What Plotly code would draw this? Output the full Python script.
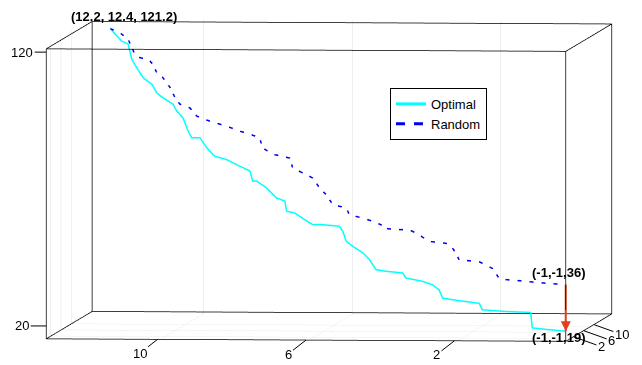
import plotly.graph_objects as go

# ---- data ----
opt_x = [12.2, 11.86, 11.68, 11.57, 11.43, 11.24, 10.99, 10.85, 10.67, 10.38, 10.27, 10.09, 9.94, 9.84, 9.60, 9.40, 9.17, 8.83, 8.44, 8.15, 8.07, 7.96, 7.67, 7.38, 7.14, 7.09, 6.86, 6.57, 6.33, 6.13, 5.56, 5.46, 5.36, 5.17, 4.88, 4.69, 4.50, 4.21, 3.73, 3.63, 3.15, 2.86, 2.67, 2.57, 2.09, 1.51, 1.42, 0.74, 0.02, -0.03, -0.41, -1]
opt_y = [12.4, 12.05, 11.87, 11.76, 11.61, 11.43, 11.18, 11.03, 10.84, 10.55, 10.44, 10.26, 10.11, 10.00, 9.76, 9.56, 9.32, 8.98, 8.59, 8.29, 8.20, 8.10, 7.80, 7.51, 7.27, 7.22, 6.97, 6.68, 6.45, 6.24, 5.65, 5.56, 5.46, 5.26, 4.97, 4.78, 4.58, 4.28, 3.80, 3.70, 3.21, 2.92, 2.72, 2.63, 2.14, 1.55, 1.45, 0.77, 0.03, -0.01, -0.40, -1]
opt_z = [121.2, 116.8, 115.9, 110.3, 107.4, 103.8, 101.6, 98.6, 96.9, 94.8, 92.3, 89.9, 85.2, 82.8, 83.0, 79.4, 76.5, 75.5, 73.3, 71.7, 68.1, 68.2, 65.9, 62.4, 61.4, 57.7, 57.3, 55.0, 53.3, 53.5, 53.2, 51.4, 47.8, 46.1, 43.9, 41.6, 38.0, 37.6, 37.3, 35.5, 34.6, 33.5, 31.8, 28.8, 28.2, 27.6, 25.3, 25.1, 25.2, 19.6, 19.3, 19]

rnd_x = [12.2, 11.91, 11.68, 11.57, 11.48, 11.33, 11.10, 10.96, 10.85, 10.67, 10.46, 10.32, 10.18, 9.89, 9.69, 9.31, 8.83, 8.44, 8.15, 7.87, 7.78, 7.49, 7.00, 6.91, 6.62, 6.33, 6.13, 5.94, 5.75, 5.56, 5.36, 5.27, 4.88, 4.59, 4.35, 4.31, 3.92, 3.53, 3.25, 2.96, 2.47, 2.28, 2.18, 2.09, 1.51, 1.13, 0.93, 0.89, 0.36, -0.12, -0.60, -1]
rnd_y = [12.4, 12.10, 11.87, 11.76, 11.66, 11.52, 11.28, 11.14, 11.03, 10.84, 10.64, 10.49, 10.34, 10.05, 9.86, 9.47, 8.98, 8.59, 8.29, 8.00, 7.91, 7.62, 7.12, 7.03, 6.74, 6.44, 6.24, 6.04, 5.85, 5.65, 5.46, 5.36, 4.97, 4.68, 4.43, 4.39, 3.99, 3.60, 3.31, 3.02, 2.53, 2.33, 2.23, 2.14, 1.55, 1.16, 0.96, 0.91, 0.38, -0.11, -0.60, -1]
rnd_z = [121.2, 119.8, 117.7, 114.6, 112.2, 111.1, 110.7, 109.0, 105.9, 104.2, 100.7, 97.1, 94.9, 93.7, 90.8, 89.2, 87.7, 86.1, 85.2, 84.0, 80.4, 78.3, 77.2, 73.6, 72.0, 70.3, 66.8, 64.5, 61.0, 60.5, 60.0, 57.6, 56.6, 55.6, 54.5, 53.3, 53.0, 53.2, 51.5, 49.3, 48.9, 47.2, 45.5, 43.1, 42.8, 40.6, 37.1, 36.8, 36.6, 36.3, 36.1, 36]

arrow_x = [-1, -1]
arrow_y = [-1, -1]
arrow_z = [36, 19]

start_pt = (12.2, 12.4, 121.2)
rnd_end = (-1, -1, 36)
opt_end = (-1, -1, 19)

x_ticks = [2, 6, 10]
y_ticks = [2, 6, 10]
z_ticks = [20, 120]
x_lim = [13, -1]   # reversed, as in the reference
y_lim = [-1, 17]
z_lim = [15.3, 121.2]

FONT = "Liberation Sans, Arial, Helvetica, sans-serif"
TICK_FONT = dict(family=FONT, size=13, color="black")


def padded(lim, frac=0.006):
    d = (lim[1] - lim[0]) * frac
    return [lim[0] - d, lim[1] + d]


fig = go.Figure()

# plot box: all 12 edges, derived from the axis limits
bx, by, bz = [], [], []
for yy in y_lim:
    for zz in z_lim:
        bx += [x_lim[0], x_lim[1], None]; by += [yy, yy, None]; bz += [zz, zz, None]
for xx in x_lim:
    for zz in z_lim:
        bx += [xx, xx, None]; by += [y_lim[0], y_lim[1], None]; bz += [zz, zz, None]
for xx in x_lim:
    for yy in y_lim:
        bx += [xx, xx, None]; by += [yy, yy, None]; bz += [z_lim[0], z_lim[1], None]
fig.add_trace(go.Scatter3d(x=bx, y=by, z=bz, mode="lines", showlegend=False, hoverinfo="skip",
                           line=dict(color="black", width=1.5)))

fig.add_trace(go.Scatter3d(x=opt_x, y=opt_y, z=opt_z, mode="lines", name="Optimal",
                           line=dict(color="#00ffff", width=3)))
fig.add_trace(go.Scatter3d(x=rnd_x, y=rnd_y, z=rnd_z, mode="lines", name="Random",
                           line=dict(color="#0000ee", width=3, dash="dash")))
fig.add_trace(go.Scatter3d(x=arrow_x, y=arrow_y, z=arrow_z, mode="lines", showlegend=False,
                           line=dict(color="#e0401a", width=4)))


def fmt(p, sep):
    return "(" + sep.join(("%g" % v) for v in p) + ")"


axis_common = dict(showbackground=False, showline=False,
                   showgrid=True, gridcolor="#dcdcdc", gridwidth=1,
                   zeroline=False, ticks="", showticklabels=False,
                   title=dict(text=""), showspikes=False)

# tick labels with MATLAB-style tick marks, anchored at the tick values on the box edges
tick_annots = []
for v in z_ticks:
    tick_annots.append(dict(x=x_lim[0], y=y_lim[0], z=v, text=str(v), showarrow=True,
                            ax=-24, ay=0, arrowhead=0, arrowwidth=1, arrowcolor="black",
                            font=TICK_FONT))
for v in x_ticks:
    tick_annots.append(dict(x=v, y=y_lim[0], z=z_lim[0], text=str(v), showarrow=True,
                            ax=-18, ay=14, arrowhead=0, arrowwidth=1, arrowcolor="black",
                            font=TICK_FONT))
for v in y_ticks:
    tick_annots.append(dict(x=x_lim[1], y=v, z=z_lim[0], text=str(v), showarrow=True,
                            ax=28, ay=10, arrowhead=0, arrowwidth=1, arrowcolor="black",
                            font=TICK_FONT))

zoom = 2.85
eye_dir = (0.0893, -0.9946, 0.0535)

fig.update_layout(
    width=642, height=365,
    margin=dict(l=0, r=0, t=0, b=0),
    paper_bgcolor="white",
    font=dict(family=FONT, size=13, color="black"),
    showlegend=True,
    legend=dict(x=0.595, y=0.781, xanchor="left", yanchor="top",
                bordercolor="black", borderwidth=1, bgcolor="white",
                font=dict(family=FONT, size=13, color="black")),
    scene=dict(
        domain=dict(x=[0, 1], y=[0, 1]),
        xaxis=dict(axis_common, range=padded(x_lim), tickvals=x_ticks),
        yaxis=dict(axis_common, range=padded(y_lim), tickvals=y_ticks),
        zaxis=dict(axis_common, range=padded(z_lim), tickvals=z_ticks, showgrid=False),
        aspectmode="manual",
        aspectratio=dict(x=1.015 * zoom, y=1.0 * zoom, z=0.565 * zoom),
        camera=dict(eye=dict(x=eye_dir[0] * 2, y=eye_dir[1] * 2, z=eye_dir[2] * 2 - 0.05),
                    up=dict(x=0, y=0, z=1),
                    center=dict(x=0, y=0, z=-0.05),
                    projection=dict(type="orthographic")),
        annotations=tick_annots + [
            dict(x=start_pt[0], y=start_pt[1], z=start_pt[2], text="<b>" + fmt(start_pt, ", ") + "</b>",
                 showarrow=False, xanchor="center", yanchor="bottom", xshift=14, yshift=3,
                 font=dict(family=FONT, size=13, color="black")),
            dict(x=rnd_end[0], y=rnd_end[1], z=rnd_end[2], text="<b>" + fmt(rnd_end, ",") + "</b>",
                 showarrow=False, xanchor="center", yanchor="bottom", xshift=-7, yshift=3,
                 font=dict(family=FONT, size=13, color="black")),
            dict(x=opt_end[0], y=opt_end[1], z=opt_end[2], text="<b>" + fmt(opt_end, ",") + "</b>",
                 showarrow=False, xanchor="center", yanchor="top", xshift=-7, yshift=3,
                 font=dict(family=FONT, size=13, color="black")),
            dict(x=opt_end[0], y=opt_end[1], z=opt_end[2], text="", showarrow=True,
                 ax=0, ay=-12, arrowhead=2, arrowsize=1, arrowwidth=2, arrowcolor="#e0401a"),
        ],
    ),
)

fig.write_html("out.html")
